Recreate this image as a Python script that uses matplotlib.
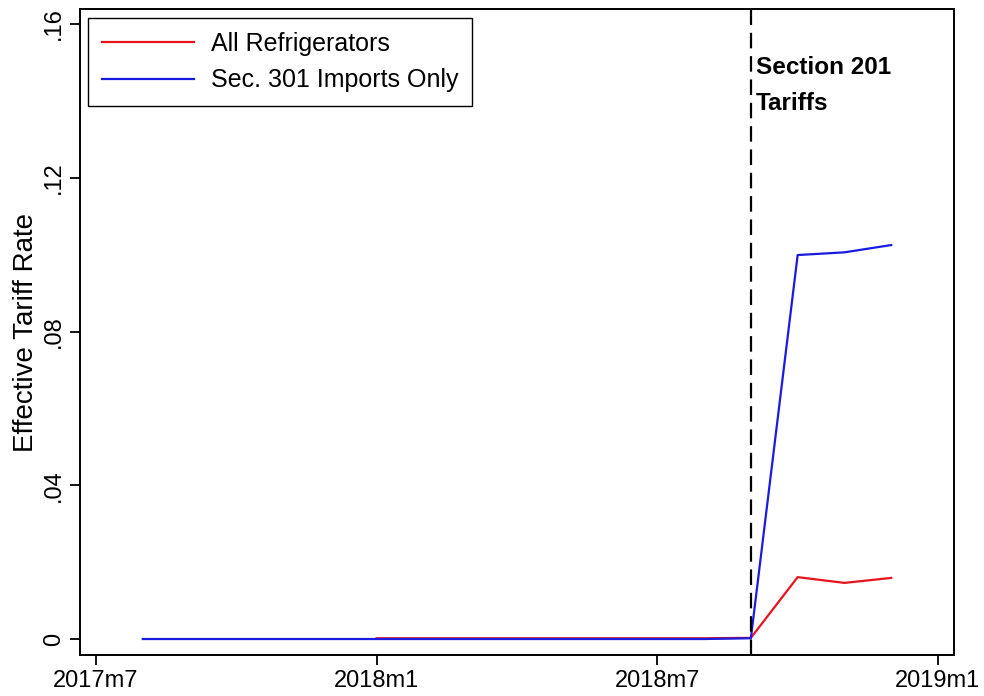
import matplotlib
matplotlib.use('agg')
import matplotlib.pyplot as plt

plt.rcParams.update({
    "font.family": "Liberation Sans",
    "font.size": 17})

# months counted from 2017m7 (= 0)
blue_months = list(range(1, 18))
blue_rate = [0, 0, 0, 0, 0, 0, 0, 0, 0, 0, 0, 0, 0, 0.0002, 0.0999, 0.1006, 0.1025]
red_months = list(range(6, 18))
red_rate = [0.0002, 0.0002, 0.0002, 0.0002, 0.0002, 0.0002, 0.0002, 0.0002, 0.0003, 0.0161, 0.0146, 0.0159]
tick_pos = [0, 6, 12, 18]
tick_labels = ["2017m7", "2018m1", "2018m7", "2019m1"]
ytick_pos = [0, 0.04, 0.08, 0.12, 0.16]
ytick_labels = ["0", ".04", ".08", ".12", ".16"]
event_month = 14

fig = plt.figure(figsize=(9.84, 6.96), dpi=100)
ax = fig.add_axes([0.0813, 0.0589, 0.8882, 0.9281])

ax.plot(red_months, red_rate, color="#e8141c", lw=1.6, label="All Refrigerators")
ax.plot(blue_months, blue_rate, color="#1a1ae0", lw=1.6, label="Sec. 301 Imports Only")
ax.axvline(event_month, color="black", lw=1.6, dashes=(7, 3.5))
ax.text(event_month + 0.1, 0.1516, "Section 201\nTariffs", fontsize=17.5,
        fontweight="bold", va="top", ha="left", linespacing=1.7)

ax.set_xlim(-0.342, 18.342)
ax.set_ylim(-0.00416, 0.1639)
ax.set_xticks(tick_pos)
ax.set_xticklabels(tick_labels)
ax.set_yticks(ytick_pos)
ax.set_yticklabels(ytick_labels, rotation=90, va="center")
ax.tick_params(length=7, width=1.3, pad=4)
ax.set_ylabel("Effective Tariff Rate", fontsize=20, labelpad=3)
for s in ax.spines.values():
    s.set_linewidth(1.4)

leg = ax.legend(loc="upper left", bbox_to_anchor=(0.0092, 0.986), borderaxespad=0,
                fontsize=18, handlelength=3.7, handletextpad=0.65, labelspacing=0.5,
                fancybox=False, framealpha=1, edgecolor="black", borderpad=0.55)
leg.get_frame().set_linewidth(1.0)

plt.savefig("out.png", dpi=100)
